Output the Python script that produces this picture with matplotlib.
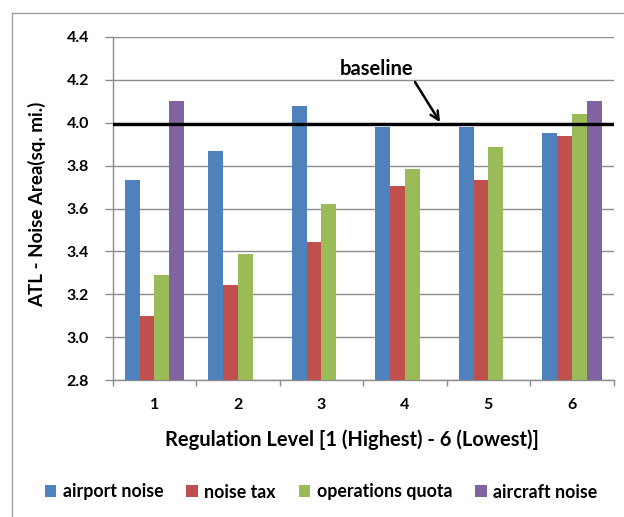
import numpy as np
import matplotlib
matplotlib.use("Agg")
import matplotlib.pyplot as plt
from matplotlib.patches import Patch
from matplotlib.lines import Line2D

plt.rcParams['font.family'] = ['Lato', 'DejaVu Sans']
plt.rcParams['font.weight'] = 'bold'

levels = ["1", "2", "3", "4", "5", "6"]
airport_noise = [3.733, 3.870, 4.080, 3.982, 3.982, 3.954]
noise_tax = [3.100, 3.241, 3.442, 3.705, 3.733, 3.938]
operations_quota = [3.291, 3.386, 3.623, 3.784, 3.885, 4.039]
aircraft_noise = [4.103, np.nan, np.nan, np.nan, np.nan, 4.103]
series_names = ["airport noise", "noise tax", "operations quota", "aircraft noise"]
series_colors = ["#4F81BD", "#C0504D", "#9BBB59", "#8064A2"]
baseline = 3.995

fig = plt.figure(figsize=(6.24, 5.17), dpi=100)
ax = fig.add_axes([112.7 / 624, 1 - 380 / 517, 501 / 624, 343 / 517])

x = np.arange(1, len(levels) + 1)
width = 0.178
all_series = [airport_noise, noise_tax, operations_quota, aircraft_noise]
for i, (vals, color) in enumerate(zip(all_series, series_colors)):
    ax.bar(x + (i - 1.5) * width, vals, width=width, color=color,
           bottom=0, zorder=3, linewidth=0)

ax.set_ylim(2.8, 4.4)
ax.set_xlim(0.5, 6.5)
yt = np.arange(2.8, 4.41, 0.2)
ax.set_yticks(yt)
ax.set_yticklabels([f"{v:.1f}" for v in yt])
ax.set_xticks(x)
ax.set_xticklabels(levels)
ax.set_xticks(np.arange(0.5, 6.6, 1.0), minor=True)

grid_c = "#8C8C8C"
ax.yaxis.grid(True, color=grid_c, linewidth=1.0, zorder=0)
ax.set_axisbelow(True)
for s in ["top", "right"]:
    ax.spines[s].set_visible(False)
for s in ["left", "bottom"]:
    ax.spines[s].set_color(grid_c)
    ax.spines[s].set_linewidth(1.0)

ax.tick_params(axis="y", direction="out", length=6, width=1, color=grid_c,
               labelsize=11.5, pad=11)
ax.tick_params(axis="x", which="major", length=0, labelsize=11.5, pad=13)
ax.tick_params(axis="x", which="minor", direction="out", length=4, width=1,
               color=grid_c)
for lbl in ax.get_xticklabels() + ax.get_yticklabels():
    lbl.set_fontweight("bold")

# baseline reference line with label and pointer
ax.axhline(baseline - 0.007, color="#9A9A9A", linewidth=1.5, zorder=4)
ax.axhline(baseline, color="black", linewidth=2.4, zorder=5)
ax.text(3.66, 4.25, "baseline", ha="center", va="center",
        fontsize=14.5, fontweight="bold", zorder=6)
ax.annotate("", xy=(4.42, baseline + 0.008), xytext=(4.12, 4.19),
            arrowprops=dict(arrowstyle="->", color="black", lw=1.8,
                            shrinkA=0, shrinkB=0, mutation_scale=15),
            zorder=6)

fig.text(37 / 624, 1 - 204 / 517, "ATL - Noise Area(sq. mi.)", rotation=90,
         ha="center", va="center", fontsize=13.5, fontweight="bold")
fig.text(352 / 624, 1 - 440 / 517, "Regulation Level [1 (Highest) - 6 (Lowest)]",
         ha="center", va="center", fontsize=14.5, fontweight="bold")

handles = [Patch(facecolor=c, edgecolor="none") for c in series_colors]
fig.legend(handles, series_names, loc="center", ncol=4,
           bbox_to_anchor=(321 / 624, 1 - 492 / 517), frameon=False,
           handlelength=0.65, handleheight=0.65,
           handletextpad=0.35, columnspacing=1.3,
           prop={"weight": "bold", "size": 12.8})

# chart frame edges
frame_c = "#A0A0A0"
fig.add_artist(Line2D([12 / 624, 12 / 624], [0, 1 - 13 / 517],
                      transform=fig.transFigure, color=frame_c, linewidth=1))
fig.add_artist(Line2D([12 / 624, 1], [1 - 13 / 517, 1 - 13 / 517],
                      transform=fig.transFigure, color=frame_c, linewidth=1))

fig.savefig("out.png", dpi=100)
